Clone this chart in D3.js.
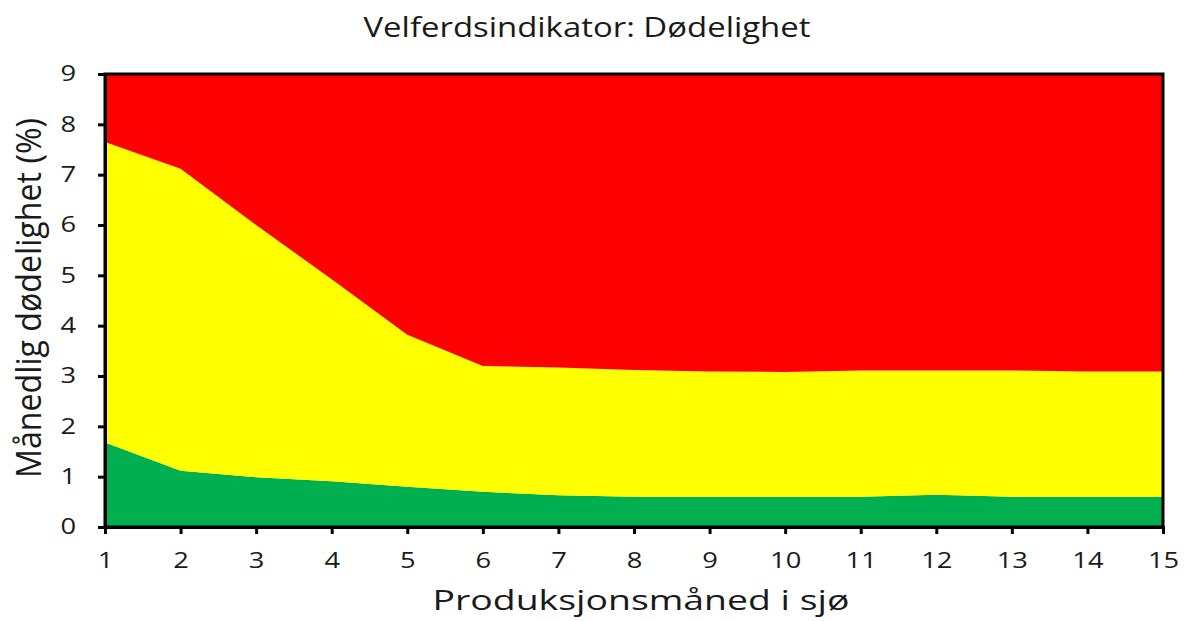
<!DOCTYPE html>
<html>
<head>
<meta charset="utf-8">
<script src="https://cdn.jsdelivr.net/npm/d3@7"></script>
<style>
  html, body { margin: 0; padding: 0; background: #fff; }
  svg text { font-family: "Open Sans", "DejaVu Sans", sans-serif; fill: #1a1a1a; }
</style>
</head>
<body>
<svg id="chart" width="1187" height="621"></svg>
<script>
// Production month in sea
const months = [1, 2, 3, 4, 5, 6, 7, 8, 9, 10, 11, 12, 13, 14, 15];
// Upper limit of the green zone (monthly mortality, %)
const greenUpper = [1.68, 1.12, 0.99, 0.91, 0.8, 0.7, 0.63, 0.6, 0.6, 0.6, 0.6, 0.64, 0.6, 0.6, 0.6];
// Upper limit of the yellow zone
const yellowUpper = [7.65, 7.12, 6.0, 4.92, 3.82, 3.2, 3.17, 3.12, 3.09, 3.08, 3.11, 3.11, 3.11, 3.09, 3.09];
// Upper limit of the red zone
const redUpper = [9, 9, 9, 9, 9, 9, 9, 9, 9, 9, 9, 9, 9, 9, 9];
const yTicks = [0, 1, 2, 3, 4, 5, 6, 7, 8, 9];

const svg = d3.select("#chart");
const margin = { left: 105, right: 24, top: 74, bottom: 94 };
const W = 1187, H = 621;

const x = d3.scaleLinear().domain([1, 15]).range([margin.left, W - margin.right]);
const y = d3.scaleLinear().domain([0, 9]).range([H - margin.bottom, margin.top]);

// Widen glyphs horizontally to get the broad lettering
function widen(sel, factor) {
  sel.each(function () {
    const len = this.getComputedTextLength();
    d3.select(this).attr("textLength", len * factor).attr("lengthAdjust", "spacingAndGlyphs");
  });
}

const rows = months.map((m, i) => ({ m, g: greenUpper[i], yl: yellowUpper[i], r: redUpper[i] }));

const zones = [
  { lo: d => 0, hi: d => d.g, color: "#00B050" },
  { lo: d => d.g, hi: d => d.yl, color: "#FFFF00" },
  { lo: d => d.yl, hi: d => d.r, color: "#FF0000" }
];

zones.forEach(z => {
  svg.append("path")
    .datum(rows)
    .attr("fill", z.color)
    .attr("d", d3.area()
      .x(d => x(d.m))
      .y0(d => y(z.lo(d)))
      .y1(d => y(z.hi(d))));
});

// Plot frame
svg.append("rect")
  .attr("x", x(1)).attr("y", y(9))
  .attr("width", x(15) - x(1)).attr("height", y(0) - y(9))
  .attr("fill", "none").attr("stroke", "#000").attr("stroke-width", 3);

// Axes
const xAxis = svg.append("g")
  .attr("transform", `translate(0,${y(0)})`)
  .call(d3.axisBottom(x).tickValues(months).tickFormat(d3.format("d")).tickSize(7).tickPadding(19));
const yAxis = svg.append("g")
  .attr("transform", `translate(${x(1)},0)`)
  .call(d3.axisLeft(y).tickValues(yTicks).tickFormat(d3.format("d")).tickSize(7).tickPadding(22));

[xAxis, yAxis].forEach(a => {
  a.select(".domain").attr("stroke", "#000").attr("stroke-width", 3);
  a.selectAll(".tick line").attr("stroke", "#000").attr("stroke-width", 3);
  a.selectAll(".tick text").attr("font-size", 21).attr("fill", "#1a1a1a")
    .style("font-family", '"Open Sans", "DejaVu Sans", sans-serif')
    .call(widen, 1.3);
});

// Title
svg.append("text")
  .attr("x", 587).attr("y", 37)
  .attr("text-anchor", "middle")
  .attr("font-size", 28)
  .attr("textLength", 447).attr("lengthAdjust", "spacingAndGlyphs")
  .text("Velferdsindikator: Dødelighet");

// Axis titles
svg.append("text")
  .attr("x", 641).attr("y", 610)
  .attr("text-anchor", "middle")
  .attr("font-size", 28)
  .attr("textLength", 417).attr("lengthAdjust", "spacingAndGlyphs")
  .text("Produksjonsmåned i sjø");

svg.append("text")
  .attr("transform", `translate(41,298) scale(1.15,1) rotate(-90)`)
  .attr("text-anchor", "middle")
  .attr("font-size", 30)
  .attr("textLength", 360).attr("lengthAdjust", "spacingAndGlyphs")
  .text("Månedlig dødelighet (%)");
</script>
</body>
</html>
